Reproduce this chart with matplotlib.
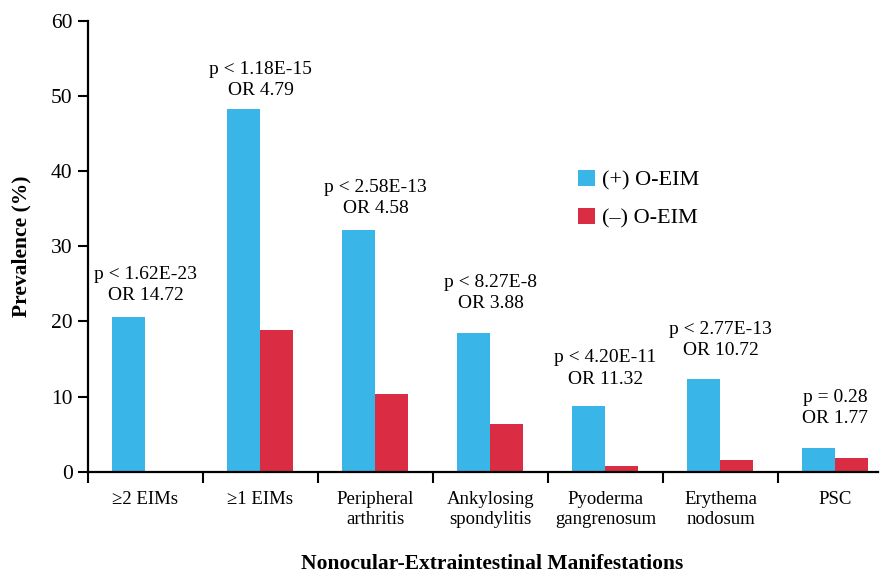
import numpy as np
import matplotlib
matplotlib.use('Agg')
import matplotlib.pyplot as plt

categories = ['\u22652 EIMs', '\u22651 EIMs', 'Peripheral\narthritis',
              'Ankylosing\nspondylitis', 'Pyoderma\ngangrenosum',
              'Erythema\nnodosum', 'PSC']
pos_oeim = [20.6, 48.3, 32.2, 18.5, 8.8, 12.4, 3.2]
neg_oeim = [0.15, 18.8, 10.4, 6.4, 0.8, 1.5, 1.8]
p_labels = ['p < 1.62E-23', 'p < 1.18E-15', 'p < 2.58E-13', 'p < 8.27E-8',
            'p < 4.20E-11', 'p < 2.77E-13', 'p = 0.28']
or_labels = ['OR 14.72', 'OR 4.79', 'OR 4.58', 'OR 3.88',
             'OR 11.32', 'OR 10.72', 'OR 1.77']

# gap (points) between the taller bar and its annotation
label_pad = [9, 7, 9, 15, 13, 14, 15]

plt.rcParams['font.family'] = ['Liberation Serif', 'DejaVu Serif']

blue = '#39b5e7'
red = '#da2c43'

fig = plt.figure(figsize=(8.83, 5.78), dpi=100)
ax = fig.add_axes([88 / 883, (578 - 471.7) / 578, 790 / 883, 450.7 / 578])

x = np.arange(len(categories))
w = 0.287
ax.bar(x - w / 2, pos_oeim, width=w, color=blue, label='(+) O-EIM')
ax.bar(x + w / 2, neg_oeim, width=w, color=red, label='(\u2013) O-EIM')

for i in range(len(categories)):
    top = max(pos_oeim[i], neg_oeim[i])
    ax.annotate(p_labels[i] + '\n' + or_labels[i], (x[i], top),
                xytext=(0, label_pad[i]), textcoords='offset points',
                ha='center', va='bottom', fontsize=14, linespacing=1.32)

ax.set_xlim(-0.5, 6.37)
ax.set_ylim(0, 60)
ax.set_yticks(np.arange(0, 61, 10))

ax.set_xticks(np.arange(-0.5, 6.5, 1.0))
ax.set_xticklabels([])
ax.set_xticks(x, minor=True)
ax.set_xticklabels(categories, minor=True, fontsize=13.5, linespacing=1.2)
ax.tick_params(axis='x', which='major', length=8, width=1.5, direction='out')
ax.tick_params(axis='x', which='minor', length=0, pad=14)
ax.tick_params(axis='y', length=7, width=1.5, direction='out', labelsize=15.5, pad=4)

for side in ['top', 'right']:
    ax.spines[side].set_visible(False)
for side in ['left', 'bottom']:
    ax.spines[side].set_linewidth(1.6)

ax.set_ylabel('Prevalence (%)', fontsize=15.5, fontweight='bold', labelpad=14)
ax.set_xlabel('Nonocular-Extraintestinal Manifestations', fontsize=15.5,
              fontweight='bold')
ax.xaxis.set_label_coords(0.511, -0.183)

ax.legend(loc='upper left', bbox_to_anchor=(558 / 883, 1 - 150 / 578),
          bbox_transform=fig.transFigure, frameon=False, fontsize=16,
          handlelength=0.75, handleheight=0.75, handletextpad=0.35,
          labelspacing=0.75)

fig.savefig('out.png', dpi=100)
